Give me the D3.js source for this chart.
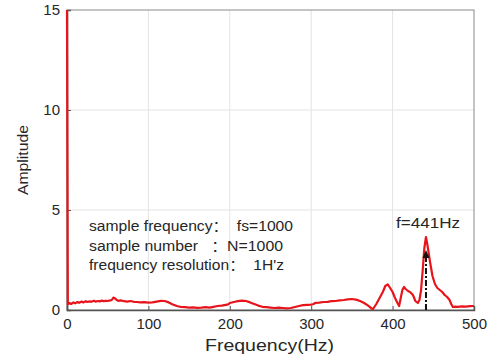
<!DOCTYPE html>
<html>
<head>
<meta charset="utf-8">
<script src="https://cdn.jsdelivr.net/npm/d3@7"></script>
<style>
  body { margin: 0; background: #fff; }
  text { font-family: "Liberation Sans", Arial, "Noto Sans CJK SC", sans-serif; fill: #262626; }
</style>
</head>
<body>
<div id="chart"></div>
<script>
// spectrum: [frequency Hz, amplitude]
const spectrum = [
  [0, 15], [1, 0.28], [3, 0.35], [5, 0.3], [8, 0.38], [10, 0.33], [13, 0.4], [15, 0.36],
  [18, 0.42], [20, 0.38], [23, 0.44], [25, 0.4], [28, 0.43], [30, 0.41], [33, 0.46],
  [35, 0.42], [38, 0.45], [40, 0.43], [43, 0.47], [45, 0.44], [48, 0.46], [50, 0.45],
  [53, 0.48], [55, 0.5], [57, 0.62], [59, 0.58], [61, 0.5], [63, 0.46], [66, 0.48],
  [70, 0.44], [74, 0.42], [78, 0.45], [82, 0.41], [86, 0.4], [90, 0.38], [95, 0.39],
  [100, 0.37], [105, 0.38], [110, 0.42], [115, 0.46], [120, 0.45], [125, 0.38],
  [130, 0.28], [135, 0.2], [140, 0.15], [145, 0.14], [150, 0.12], [155, 0.13],
  [160, 0.11], [165, 0.12], [170, 0.14], [175, 0.12], [180, 0.16], [185, 0.2],
  [190, 0.22], [195, 0.26], [198, 0.28], [200, 0.35], [205, 0.4], [210, 0.44],
  [215, 0.47], [220, 0.45], [225, 0.38], [230, 0.3], [235, 0.22], [240, 0.16],
  [245, 0.14], [250, 0.12], [255, 0.1], [260, 0.12], [265, 0.1], [270, 0.08],
  [275, 0.1], [280, 0.15], [285, 0.2], [290, 0.24], [295, 0.26], [300, 0.27],
  [303, 0.3], [305, 0.36], [310, 0.37], [315, 0.4], [320, 0.41], [325, 0.44],
  [330, 0.45], [335, 0.48], [340, 0.5], [345, 0.53], [350, 0.55], [355, 0.52],
  [360, 0.45], [365, 0.35], [370, 0.22], [374, 0.08], [376, 0.05], [380, 0.3],
  [384, 0.6], [388, 0.9], [391, 1.2], [394, 1.28], [397, 1.1], [400, 0.9],
  [403, 0.6], [406, 0.35], [408, 0.2], [410, 0.6], [412, 1.0], [414, 1.15],
  [416, 1.05], [419, 0.95], [422, 0.88], [425, 0.75], [428, 0.45], [431, 0.35],
  [433, 0.5], [435, 1.0], [437, 2.0], [439, 3.1], [441, 3.65], [443, 3.2],
  [446, 2.4], [449, 1.7], [452, 1.3], [455, 1.1], [458, 1.0], [461, 0.9],
  [464, 0.75], [467, 0.65], [470, 0.5], [472, 0.3], [474, 0.15], [477, 0.17],
  [480, 0.16], [485, 0.18], [490, 0.17], [495, 0.19], [500, 0.2]
]

const xTicks = [0, 100, 200, 300, 400, 500]
const yTicks = [0, 5, 10, 15]
const infoLines = [
  "sample frequency：  fs=1000",
  "sample number   ：N=1000",
  "frequency resolution：  1H'z"
]
const peakFreq = 441
const arrowTop = 3.0
const peakLabel = "f=441Hz"

const width = 493, height = 356
const margin = { top: 10, right: 19, bottom: 46, left: 67 }

// the source text is drawn a bit wider than the font, so stretch to measured widths
const infoWidths = [204, 194, 195]

const svg = d3.select("#chart").append("svg")
  .attr("width", width)
  .attr("height", height)

const x = d3.scaleLinear().domain([0, 500]).range([margin.left, width - margin.right])
const y = d3.scaleLinear().domain([0, 15]).range([height - margin.bottom, margin.top])

// grid lines
svg.append("g").selectAll("line.vgrid")
  .data(xTicks.slice(1, -1))
  .join("line")
    .attr("x1", d => x(d)).attr("x2", d => x(d))
    .attr("y1", y(0)).attr("y2", y(15))
    .attr("stroke", "#e3e3e3")
svg.append("g").selectAll("line.hgrid")
  .data(yTicks.slice(1, -1))
  .join("line")
    .attr("x1", x(0)).attr("x2", x(500))
    .attr("y1", d => y(d)).attr("y2", d => y(d))
    .attr("stroke", "#e3e3e3")

// box
svg.append("rect")
  .attr("x", x(0)).attr("y", y(15))
  .attr("width", x(500) - x(0)).attr("height", y(0) - y(15))
  .attr("fill", "none").attr("stroke", "#8a8a8a").attr("stroke-width", 1)

// axes
const xAxis = svg.append("g")
  .attr("transform", `translate(0,${y(0)})`)
  .call(d3.axisBottom(x).tickValues(xTicks).tickSize(-4).tickPadding(8))
xAxis.select(".domain").attr("stroke", "#555").attr("stroke-width", 1.5)
xAxis.selectAll(".tick line").attr("stroke", "#555")
xAxis.selectAll("text").attr("font-size", 15).attr("fill", "#262626")

const yAxis = svg.append("g")
  .attr("transform", `translate(${x(0)},0)`)
  .call(d3.axisLeft(y).tickValues(yTicks).tickSize(-4).tickPadding(7))
yAxis.select(".domain").attr("stroke", "#555").attr("stroke-width", 1.5)
yAxis.selectAll(".tick line").attr("stroke", "#555")
yAxis.selectAll("text").attr("font-size", 15).attr("fill", "#262626")

// axis titles
svg.append("text")
  .attr("x", 205)
  .attr("y", 351)
  .attr("font-size", 16)
  .attr("textLength", 129)
  .attr("lengthAdjust", "spacingAndGlyphs")
  .text("Frequency(Hz)")

svg.append("text")
  .attr("transform", `translate(28,${(y(0) + y(15)) / 2}) rotate(-90)`)
  .attr("x", -35)
  .attr("font-size", 15)
  .attr("textLength", 70)
  .attr("lengthAdjust", "spacingAndGlyphs")
  .text("Amplitude")

// spectrum line
const line = d3.line()
  .x(d => x(d[0]))
  .y(d => y(Math.min(d[1], 15)))

svg.append("path")
  .datum(spectrum)
  .attr("d", line)
  .attr("fill", "none")
  .attr("stroke", "#e8141b")
  .attr("stroke-width", 2.2)
  .attr("stroke-linejoin", "round")

// peak marker: dash-dot line with arrow head
svg.append("line")
  .attr("x1", x(peakFreq)).attr("x2", x(peakFreq))
  .attr("y1", y(0)).attr("y2", y(arrowTop) + 6)
  .attr("stroke", "#111")
  .attr("stroke-width", 2)
  .attr("stroke-dasharray", "6,2,2,2")

const ax = x(peakFreq), ay = y(arrowTop)
svg.append("path")
  .attr("d", `M${ax},${ay} L${ax - 3.5},${ay + 8} L${ax + 3.5},${ay + 8} Z`)
  .attr("fill", "#111")

svg.append("text")
  .attr("x", 396)
  .attr("y", 228)
  .attr("font-size", 14)
  .attr("textLength", 64)
  .attr("lengthAdjust", "spacingAndGlyphs")
  .text(peakLabel)

// info text
svg.append("g").selectAll("text")
  .data(infoLines)
  .join("text")
    .attr("x", 89)
    .attr("y", (d, i) => 231 + i * 19.5)
    .attr("font-size", 14)
    .attr("xml:space", "preserve")
    .style("white-space", "pre")
    .attr("textLength", (d, i) => infoWidths[i])
    .attr("lengthAdjust", "spacingAndGlyphs")
    .text(d => d)
</script>
</body>
</html>
